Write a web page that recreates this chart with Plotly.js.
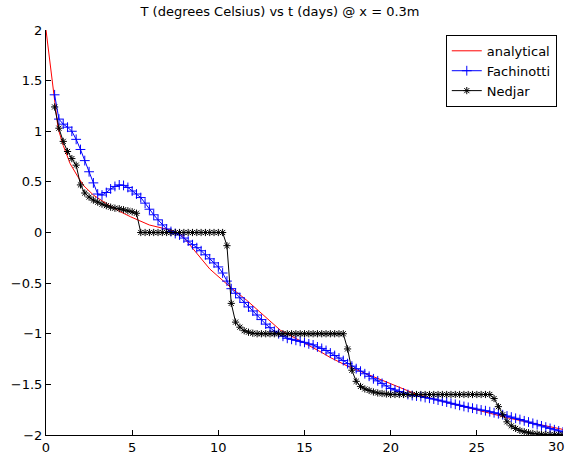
<!DOCTYPE html>
<html>
<head>
<meta charset="utf-8">
<script src="https://cdn.plot.ly/plotly-3.0.1.min.js"></script>
<style>html,body{margin:0;padding:0;background:#fff;}#chart{width:567px;height:460px;}</style>
</head>
<body>
<div id="chart"></div>
<script>
// time grid (days) for the numerical schemes
const tGrid = [
  0.5,0.75,1,1.25,1.5,1.75,2,2.25,
  2.5,2.75,3,3.25,3.5,3.75,4,4.25,
  4.5,4.75,5,5.25,5.5,5.75,6,6.25,
  6.5,6.75,7,7.25,7.5,7.75,8,8.25,
  8.5,8.75,9,9.25,9.5,9.75,10,10.25,
  10.5,10.75,11,11.25,11.5,11.75,12,12.25,
  12.5,12.75,13,13.25,13.5,13.75,14,14.25,
  14.5,14.75,15,15.25,15.5,15.75,16,16.25,
  16.5,16.75,17,17.25,17.5,17.75,18,18.25,
  18.5,18.75,19,19.25,19.5,19.75,20,20.25,
  20.5,20.75,21,21.25,21.5,21.75,22,22.25,
  22.5,22.75,23,23.25,23.5,23.75,24,24.25,
  24.5,24.75,25,25.25,25.5,25.75,26,26.25,
  26.5,26.75,27,27.25,27.5,27.75,28,28.25,
  28.5,28.75,29,29.25,29.5,29.75,30
];
const fachinotti = [
  1.36,1.12,1.07,1.04,1.00,0.92,0.82,0.71,
  0.60,0.49,0.38,0.37,0.395,0.43,0.455,0.47,
  0.465,0.445,0.41,0.38,0.345,0.29,0.23,0.175,
  0.125,0.075,0.035,0.01,-0.01,-0.025,-0.055,-0.085,
  -0.12,-0.15,-0.18,-0.22,-0.26,-0.30,-0.34,-0.40,
  -0.48,-0.555,-0.60,-0.645,-0.69,-0.735,-0.775,-0.815,
  -0.86,-0.905,-0.94,-0.975,-1.0,-1.025,-1.045,-1.055,
  -1.065,-1.075,-1.085,-1.10,-1.11,-1.13,-1.145,-1.165,
  -1.19,-1.215,-1.24,-1.265,-1.295,-1.32,-1.345,-1.37,
  -1.395,-1.42,-1.445,-1.465,-1.49,-1.515,-1.54,-1.555,
  -1.57,-1.585,-1.60,-1.61,-1.615,-1.62,-1.63,-1.637,
  -1.645,-1.655,-1.665,-1.675,-1.687,-1.697,-1.707,-1.718,
  -1.727,-1.735,-1.745,-1.753,-1.76,-1.77,-1.78,-1.79,
  -1.80,-1.812,-1.823,-1.835,-1.847,-1.86,-1.872,-1.885,
  -1.898,-1.91,-1.922,-1.935,-1.948,-1.96,-1.97
];
const nedjar = [
  1.24,1.03,0.90,0.80,0.73,0.665,0.47,0.39,
  0.35,0.32,0.30,0.28,0.265,0.25,0.24,0.235,
  0.225,0.215,0.205,0.19,0,0,0,0,
  0,0,0,0,0,0,0,0,
  0,0,0,0,0,0,0,0,
  -0.13,-0.70,-0.885,-0.935,-0.97,-0.985,-0.995,-1.0,
  -1,-1,-1,-1,-1,-1,-1,-1,
  -1,-1,-1,-1,-1,-1,-1,-1,
  -1,-1,-1,-1,-1.15,-1.36,-1.47,-1.52,
  -1.545,-1.56,-1.575,-1.585,-1.59,-1.595,-1.6,-1.6,
  -1.6,-1.6,-1.6,-1.6,-1.6,-1.6,-1.6,-1.6,
  -1.6,-1.6,-1.6,-1.6,-1.6,-1.6,-1.6,-1.6,
  -1.6,-1.6,-1.6,-1.6,-1.6,-1.6,-1.64,-1.72,
  -1.80,-1.87,-1.91,-1.935,-1.955,-1.968,-1.978,-1.985,
  -1.99,-1.993,-1.995,-1.996,-1.997,-1.998,-1.998
];
const tAnalytical = [0,0.35,0.7,1.0,1.4,1.85,2.2,2.75,3.5,4.2,4.9,6.0,7.2,7.8,8.4,8.95,9.5,10.1,10.7,11.65,12.6,13.6,14.0,15.0,16.0,16.5,17.5,18.8,20.0,21.1,21.5,22.5,23.5,24.6,25.8,26.9,28.0,29.0,30.0];
const analytical = [2.0,1.52,1.03,0.86,0.68,0.55,0.46,0.37,0.285,0.215,0.156,0.074,0.025,-0.01,-0.13,-0.25,-0.36,-0.45,-0.54,-0.67,-0.815,-0.965,-1.0,-1.09,-1.185,-1.235,-1.32,-1.41,-1.495,-1.572,-1.598,-1.645,-1.69,-1.736,-1.787,-1.835,-1.876,-1.91,-1.945];
const xTicks = [0,5,10,15,20,25,30];
const xTickLabels = ['0','5','10','15','20','25','30'];
const yTicks = [-2,-1.5,-1,-0.5,0,0.5,1,1.5,2];
const titleText = 'T (degrees Celsius) vs t (days) @ x = 0.3m';

const FONT = 'DejaVu Sans, Liberation Sans, Arial, sans-serif';

const traces = [
  {x: tAnalytical, y: analytical, name: 'analytical', type: 'scatter', mode: 'lines',
   line: {color: '#ff0000', width: 1}},
  {x: tGrid, y: fachinotti, name: 'Fachinotti', type: 'scatter', mode: 'lines+markers',
   line: {color: '#0000ff', width: 1},
   marker: {symbol: 'cross-thin', size: 7, color: '#0000ff', line: {color: '#0000ff', width: 1}}},
  {x: tGrid, y: nedjar, name: 'Nedjar', type: 'scatter', mode: 'lines+markers',
   line: {color: '#000000', width: 1},
   marker: {symbol: 'asterisk', size: 6, color: '#000000', line: {color: '#000000', width: 1}}}
];

// the last x tick label sits at the right edge of the figure: draw it right-aligned
const lastIdx = xTicks.length - 1;
const shownTickText = xTickLabels.map((s, i) => i === lastIdx ? '' : s);
const annotations = [{
  x: xTicks[lastIdx], xref: 'x', y: 0, yref: 'paper',
  text: xTickLabels[lastIdx], showarrow: false,
  xanchor: 'right', yanchor: 'top', xshift: 4, yshift: -2,
  font: {family: FONT, size: 13, color: '#000'}
}];

const layout = {
  width: 567, height: 460,
  margin: {l: 46, r: 4, t: 30, b: 25, pad: 0},
  paper_bgcolor: '#ffffff', plot_bgcolor: '#ffffff',
  font: {family: FONT, size: 13, color: '#000'},
  title: {text: titleText, font: {family: FONT, size: 13, color: '#000'},
          x: 280/567, xref: 'container', xanchor: 'center',
          y: 1 - 11/460, yref: 'container', yanchor: 'middle'},
  showlegend: true,
  legend: {x: 0.988, y: 0.988, xanchor: 'right', yanchor: 'top',
           bgcolor: '#ffffff', bordercolor: '#000000', borderwidth: 1,
           font: {family: FONT, size: 13, color: '#000'}, tracegroupgap: 0},
  annotations: annotations,
  xaxis: {range: [0, 30], tickvals: xTicks, ticktext: shownTickText,
          ticks: 'inside', ticklen: 5, tickcolor: '#000', tickwidth: 1,
          showline: true, linecolor: '#000', linewidth: 1, mirror: false,
          showgrid: false, zeroline: false, tickfont: {family: FONT, size: 13}},
  yaxis: {range: [-2, 2], tickvals: yTicks,
          ticks: 'inside', ticklen: 5, tickcolor: '#000', tickwidth: 1,
          showline: true, linecolor: '#000', linewidth: 1, mirror: false,
          showgrid: false, zeroline: false, tickfont: {family: FONT, size: 13}}
};

Plotly.newPlot('chart', traces, layout, {staticPlot: true, displayModeBar: false});
</script>
</body>
</html>
